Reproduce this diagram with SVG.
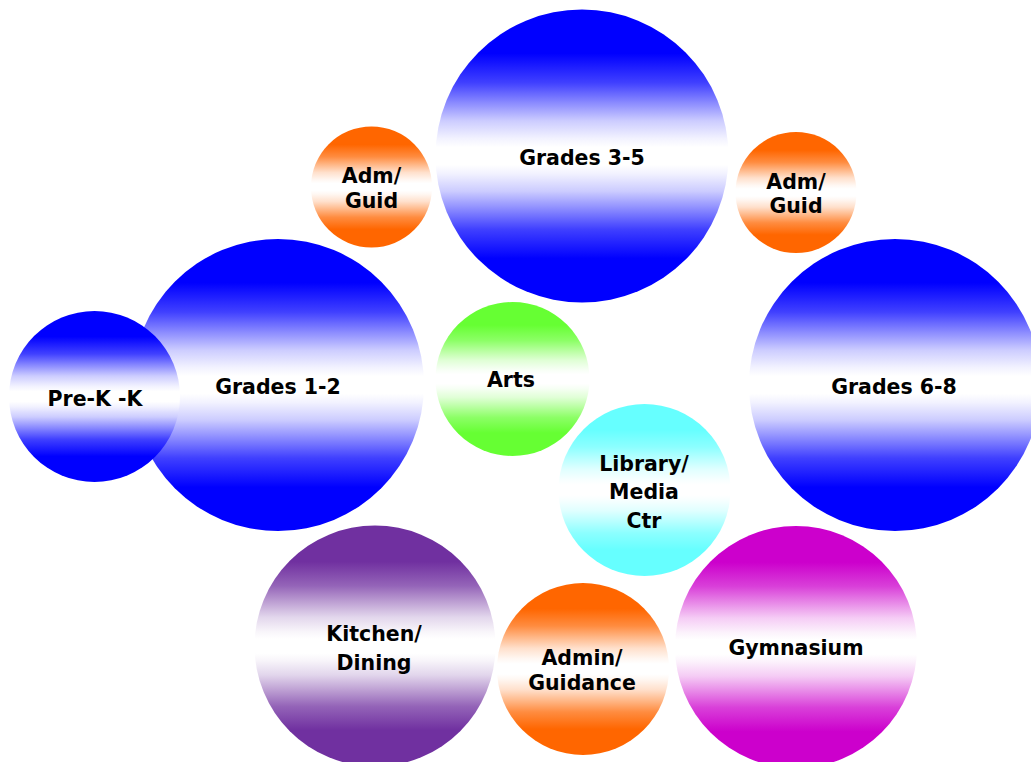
<svg xmlns="http://www.w3.org/2000/svg" width="1031" height="762" viewBox="0 0 1031 762">
<style>
text{font-family:"DejaVu Sans","Liberation Sans",sans-serif;font-weight:bold;font-size:20.5px;fill:#000;text-anchor:middle}
</style>
<defs>
<linearGradient id="gBlue" x1="0" y1="0" x2="0" y2="1">
<stop offset="0" stop-color="#0000ff"/><stop offset="0.15" stop-color="#0000ff"/><stop offset="0.25" stop-color="#4040ff"/><stop offset="0.32" stop-color="#8c8cff"/><stop offset="0.38" stop-color="#ccccff"/><stop offset="0.44" stop-color="#f2f2ff"/><stop offset="0.47" stop-color="#ffffff"/><stop offset="0.53" stop-color="#ffffff"/><stop offset="0.56" stop-color="#f2f2ff"/><stop offset="0.62" stop-color="#ccccff"/><stop offset="0.68" stop-color="#8c8cff"/><stop offset="0.75" stop-color="#4040ff"/><stop offset="0.85" stop-color="#0000ff"/><stop offset="1" stop-color="#0000ff"/>
</linearGradient>
<linearGradient id="gOrange" x1="0" y1="0" x2="0" y2="1">
<stop offset="0" stop-color="#ff6600"/><stop offset="0.15" stop-color="#ff6600"/><stop offset="0.25" stop-color="#ff8c40"/><stop offset="0.32" stop-color="#ffba8c"/><stop offset="0.38" stop-color="#ffe0cc"/><stop offset="0.44" stop-color="#fff7f2"/><stop offset="0.47" stop-color="#ffffff"/><stop offset="0.53" stop-color="#ffffff"/><stop offset="0.56" stop-color="#fff7f2"/><stop offset="0.62" stop-color="#ffe0cc"/><stop offset="0.68" stop-color="#ffba8c"/><stop offset="0.75" stop-color="#ff8c40"/><stop offset="0.85" stop-color="#ff6600"/><stop offset="1" stop-color="#ff6600"/>
</linearGradient>
<linearGradient id="gGreen" x1="0" y1="0" x2="0" y2="1">
<stop offset="0" stop-color="#66ff33"/><stop offset="0.15" stop-color="#66ff33"/><stop offset="0.25" stop-color="#8cff66"/><stop offset="0.32" stop-color="#baffa3"/><stop offset="0.38" stop-color="#e0ffd6"/><stop offset="0.44" stop-color="#f7fff5"/><stop offset="0.47" stop-color="#ffffff"/><stop offset="0.53" stop-color="#ffffff"/><stop offset="0.56" stop-color="#f7fff5"/><stop offset="0.62" stop-color="#e0ffd6"/><stop offset="0.68" stop-color="#baffa3"/><stop offset="0.75" stop-color="#8cff66"/><stop offset="0.85" stop-color="#66ff33"/><stop offset="1" stop-color="#66ff33"/>
</linearGradient>
<linearGradient id="gCyan" x1="0" y1="0" x2="0" y2="1">
<stop offset="0" stop-color="#66ffff"/><stop offset="0.15" stop-color="#66ffff"/><stop offset="0.25" stop-color="#8cffff"/><stop offset="0.32" stop-color="#baffff"/><stop offset="0.38" stop-color="#e0ffff"/><stop offset="0.44" stop-color="#f7ffff"/><stop offset="0.47" stop-color="#ffffff"/><stop offset="0.53" stop-color="#ffffff"/><stop offset="0.56" stop-color="#f7ffff"/><stop offset="0.62" stop-color="#e0ffff"/><stop offset="0.68" stop-color="#baffff"/><stop offset="0.75" stop-color="#8cffff"/><stop offset="0.85" stop-color="#66ffff"/><stop offset="1" stop-color="#66ffff"/>
</linearGradient>
<linearGradient id="gPurple" x1="0" y1="0" x2="0" y2="1">
<stop offset="0" stop-color="#7030a0"/><stop offset="0.15" stop-color="#7030a0"/><stop offset="0.25" stop-color="#9464b8"/><stop offset="0.32" stop-color="#bfa2d4"/><stop offset="0.38" stop-color="#e2d6ec"/><stop offset="0.44" stop-color="#f8f5fa"/><stop offset="0.47" stop-color="#ffffff"/><stop offset="0.53" stop-color="#ffffff"/><stop offset="0.56" stop-color="#f8f5fa"/><stop offset="0.62" stop-color="#e2d6ec"/><stop offset="0.68" stop-color="#bfa2d4"/><stop offset="0.75" stop-color="#9464b8"/><stop offset="0.85" stop-color="#7030a0"/><stop offset="1" stop-color="#7030a0"/>
</linearGradient>
<linearGradient id="gMagenta" x1="0" y1="0" x2="0" y2="1">
<stop offset="0" stop-color="#cc00cc"/><stop offset="0.15" stop-color="#cc00cc"/><stop offset="0.25" stop-color="#d940d9"/><stop offset="0.32" stop-color="#e88ce8"/><stop offset="0.38" stop-color="#f5ccf5"/><stop offset="0.44" stop-color="#fcf2fc"/><stop offset="0.47" stop-color="#ffffff"/><stop offset="0.53" stop-color="#ffffff"/><stop offset="0.56" stop-color="#fcf2fc"/><stop offset="0.62" stop-color="#f5ccf5"/><stop offset="0.68" stop-color="#e88ce8"/><stop offset="0.75" stop-color="#d940d9"/><stop offset="0.85" stop-color="#cc00cc"/><stop offset="1" stop-color="#cc00cc"/>
</linearGradient>
</defs>
<g id="connectors"></g>
<g id="grades35"><circle cx="582" cy="156" r="146.5" fill="url(#gBlue)"/><text x="582" y="165">Grades 3-5</text></g>
<g id="admguid-left"><circle cx="371.5" cy="187" r="60.5" fill="url(#gOrange)"/><text x="371.5" y="183">Adm/</text><text x="371.5" y="208">Guid</text></g>
<g id="admguid-right"><circle cx="796" cy="192.5" r="60.5" fill="url(#gOrange)"/><text x="796" y="189">Adm/</text><text x="796" y="213">Guid</text></g>
<g id="grades12"><circle cx="278" cy="385" r="146" fill="url(#gBlue)"/><text x="278" y="394">Grades 1-2</text></g>
<g id="prek"><circle cx="94.5" cy="396.5" r="85.5" fill="url(#gBlue)"/><text x="95" y="406">Pre-K -K</text></g>
<g id="arts"><circle cx="512.5" cy="379" r="77" fill="url(#gGreen)"/><text x="511" y="387">Arts</text></g>
<g id="grades68"><circle cx="895" cy="385" r="146" fill="url(#gBlue)"/><text x="894" y="394">Grades 6-8</text></g>
<g id="library"><circle cx="644.5" cy="490" r="86" fill="url(#gCyan)"/><text x="644" y="471">Library/</text><text x="644" y="499">Media</text><text x="644" y="528">Ctr</text></g>
<g id="kitchen"><circle cx="375" cy="646" r="120.5" fill="url(#gPurple)"/><text x="374" y="641">Kitchen/</text><text x="374" y="670">Dining</text></g>
<g id="admin"><circle cx="583" cy="669" r="86" fill="url(#gOrange)"/><text x="582" y="665">Admin/</text><text x="582" y="690">Guidance</text></g>
<g id="gym"><circle cx="796" cy="647" r="121" fill="url(#gMagenta)"/><text x="796" y="655">Gymnasium</text></g>
</svg>
